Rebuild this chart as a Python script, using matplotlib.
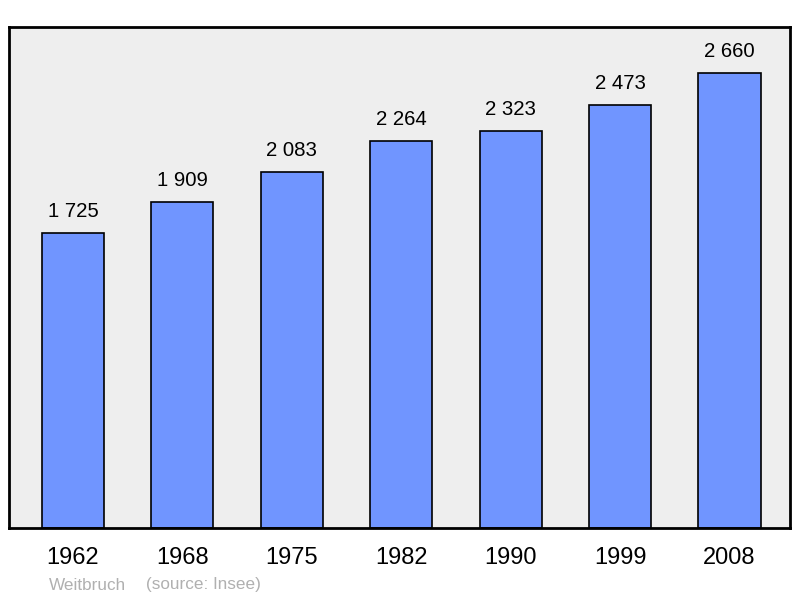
import matplotlib
matplotlib.use("Agg")
import matplotlib.pyplot as plt

# Data
years = ["1962", "1968", "1975", "1982", "1990", "1999", "2008"]
population = [1725, 1909, 2083, 2264, 2323, 2473, 2660]
value_labels = ["1 725", "1 909", "2 083", "2 264", "2 323", "2 473", "2 660"]

plt.rcParams['font.family'] = ['Liberation Sans', 'DejaVu Sans']

fig = plt.figure(figsize=(8, 5.98), dpi=100)
ax = fig.add_axes([9 / 800, 1 - 528 / 598, 781 / 800, 501 / 598])
ax.set_facecolor('#eeeeee')

x = list(range(len(years)))
ax.bar(x, population, width=0.567, color='#7095ff', edgecolor='black', linewidth=1.2)
for xi, v, lab in zip(x, population, value_labels):
    ax.text(xi, v + 70, lab, ha='center', va='bottom', fontsize=14.7)

ax.set_xlim(-0.585, 6.553)
ax.set_ylim(0, 2930)
ax.set_yticks([])
ax.set_xticks(x)
ax.set_xticklabels(years, fontsize=17)
ax.tick_params(axis='x', length=0, pad=14)
for s in ax.spines.values():
    s.set_linewidth(2)

fig.text(49 / 800, 1 - 585 / 598, "Weitbruch", color='#b0b0b0', fontsize=12.3, va='center')
fig.text(146 / 800, 1 - 585 / 598, "(source: Insee)", color='#b0b0b0', fontsize=12.3, va='center')

fig.savefig("out.png", dpi=100)
